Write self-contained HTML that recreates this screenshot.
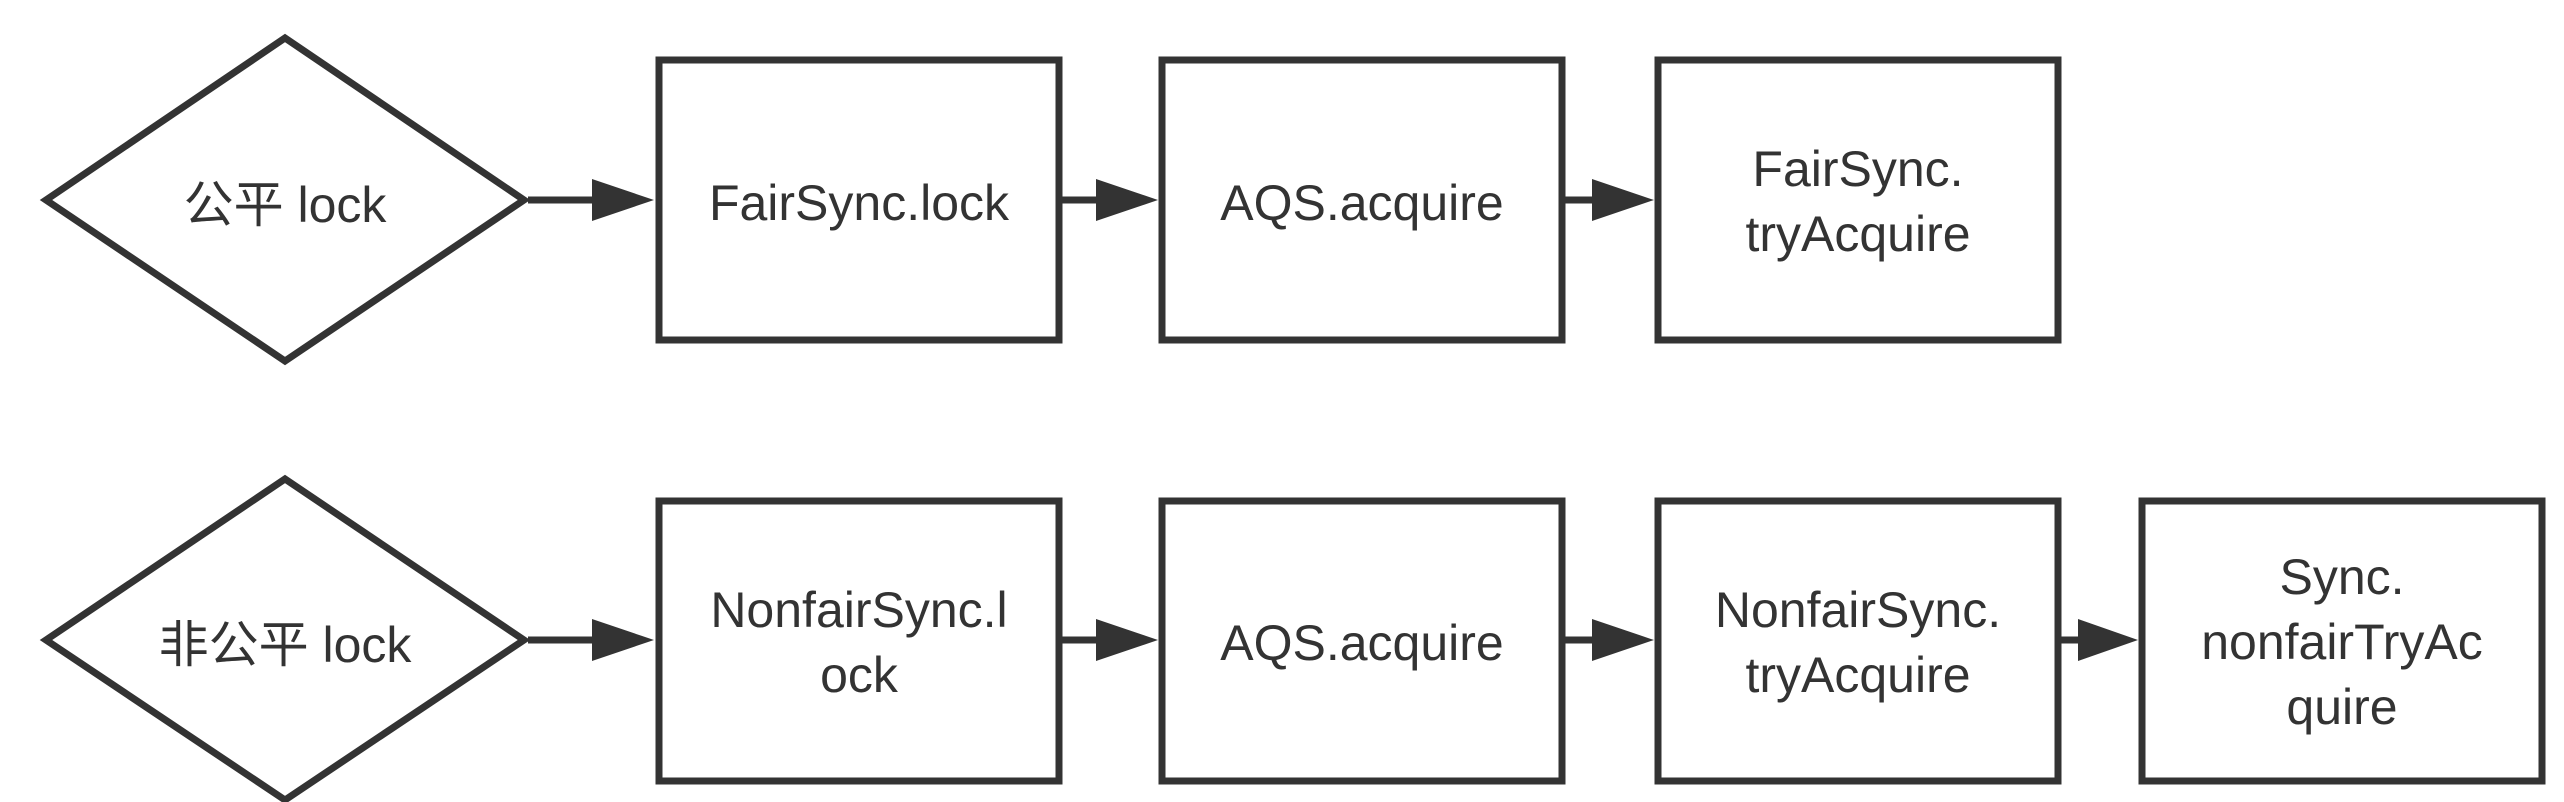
<!DOCTYPE html>
<html><head><meta charset="utf-8"><style>
html,body{margin:0;padding:0;background:#fff;}
svg{display:block}
text{font-family:"Liberation Sans","Noto Sans CJK SC",sans-serif;font-size:50px;fill:#333;text-anchor:middle;}
</style></head><body>
<svg width="2564" height="802" viewBox="0 0 2564 802" xmlns="http://www.w3.org/2000/svg">
<g fill="#fff" stroke="#333" stroke-width="7">
<polygon points="46,200 285,38 524,200 285,361"/>
<polygon points="46,640 285,479 524,640 285,800"/>
<rect x="659" y="60" width="400" height="280"/>
<rect x="1162" y="60" width="400" height="280"/>
<rect x="1658" y="60" width="400" height="280"/>
<rect x="659" y="501" width="400" height="280"/>
<rect x="1162" y="501" width="400" height="280"/>
<rect x="1658" y="501" width="400" height="280"/>
<rect x="2142" y="501" width="400" height="280"/>
</g>
<g stroke="#333" stroke-width="7">
<line x1="528" y1="200" x2="600" y2="200"/>
<line x1="1062" y1="200" x2="1100" y2="200"/>
<line x1="1565" y1="200" x2="1600" y2="200"/>
<line x1="528" y1="640" x2="600" y2="640"/>
<line x1="1062" y1="640" x2="1100" y2="640"/>
<line x1="1565" y1="640" x2="1600" y2="640"/>
<line x1="2061" y1="640" x2="2085" y2="640"/>
</g>
<g fill="#333">
<polygon points="592,179 654,200 592,221"/>
<polygon points="1096,179 1158,200 1096,221"/>
<polygon points="1592,179 1654,200 1592,221"/>
<polygon points="592,619 654,640 592,661"/>
<polygon points="1096,619 1158,640 1096,661"/>
<polygon points="1592,619 1654,640 1592,661"/>
<polygon points="2078,619 2138,640 2078,661"/>
</g>
<text x="285" y="222">公平 lock</text>
<text x="285" y="662">非公平 lock</text>
<text x="859" y="220">FairSync.lock</text>
<text x="1362" y="220">AQS.acquire</text>
<text x="1858" y="186">FairSync.</text>
<text x="1858" y="251">tryAcquire</text>
<text x="859" y="627">NonfairSync.l</text>
<text x="859" y="692">ock</text>
<text x="1362" y="660">AQS.acquire</text>
<text x="1858" y="627">NonfairSync.</text>
<text x="1858" y="692">tryAcquire</text>
<text x="2342" y="594">Sync.</text>
<text x="2342" y="659">nonfairTryAc</text>
<text x="2342" y="724">quire</text>
</svg>
</body></html>
